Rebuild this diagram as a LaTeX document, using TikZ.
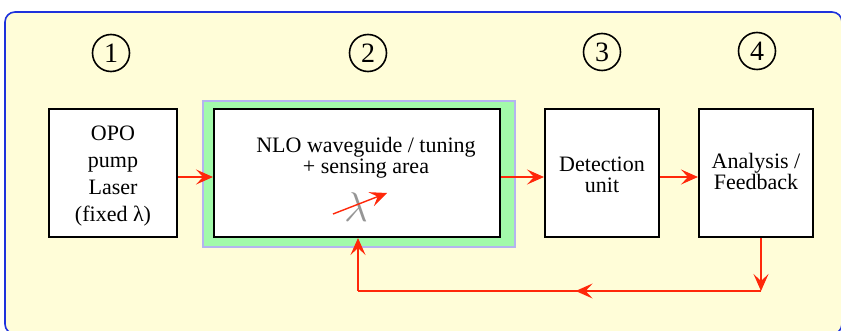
\documentclass[tikz,border=0pt]{standalone}
\usepackage{fontspec}
\setmainfont{Liberation Serif}
\usetikzlibrary{arrows.meta,decorations.markings}
\definecolor{bgyellow}{RGB}{255,253,216}
\definecolor{framblue}{RGB}{30,50,220}
\definecolor{areagreen}{RGB}{162,250,170}
\definecolor{lavender}{RGB}{180,180,240}
\definecolor{redline}{RGB}{255,40,10}
\definecolor{lamgray}{RGB}{150,150,150}
\tikzset{
  rtip/.tip={Stealth[length=8.5pt,width=7.5pt,inset=3.5pt]},
  blockbox/.style={draw=black,line width=1pt,fill=white,inner sep=0pt,minimum height=64pt},
  numcirc/.style={circle,draw=black,line width=0.8pt,minimum size=18.5pt,inner sep=0pt,font=\fontsize{14}{15}\selectfont},
  btext/.style={align=center,inner sep=0pt,font=\fontsize{11}{10.5}\selectfont},
  redarrow/.style={draw=redline,line width=0.7pt,-rtip},
  redline/.style={draw=redline,line width=0.7pt},
}
\begin{document}
\begin{tikzpicture}[x=0.5pt,y=-0.5pt]
\useasboundingbox (0,0) rectangle (841,331);
% frame
\draw[framblue,line width=0.8pt,fill=bgyellow,rounded corners=5pt] (5,12) rectangle (842,334);

% numbers
\node[numcirc] (n1) at (111,53) {1};
\node[numcirc] (n2) at (368,53) {2};
\node[numcirc] (n3) at (602,52) {3};
\node[numcirc] (n4) at (757,51) {4};

% green area
\node[draw=lavender,fill=areagreen,line width=1pt,minimum width=156pt,minimum height=73pt,inner sep=0pt] (area) at (359,174) {};

% boxes
\node[blockbox,minimum width=64pt] (b1) at (113,173) {};
\node[blockbox,minimum width=143pt] (b2) at (357,173) {};
\node[blockbox,minimum width=57pt] (b3) at (602,173) {};
\node[blockbox,minimum width=57pt] (b4) at (756,173) {};

% texts
\node[btext,font=\fontsize{11}{13.5}\selectfont] (t1) at (113,176) {OPO\\pump\\Laser\\(fixed λ)};
\node[btext] (t2) at (366,158) {NLO waveguide / tuning\\+ sensing area};
\node[btext] (t3) at (602,175) {Detection\\unit};
\node[btext] (t4) at (756,171) {Analysis /\\Feedback};

% tuning lambda
\node[text=lamgray,inner sep=0pt,font=\fontsize{21}{22}\selectfont] (lam) at (356,207) {$\lambda$};
\coordinate (lamA) at (333,214);
\coordinate (lamB) at (387,193);
\draw[redarrow] (lamA) -- (lamB);

% forward arrows
\draw[redarrow] ([yshift=-2pt]b1.east) -- ([yshift=-2pt]b2.west);
\draw[redarrow] ([yshift=-2pt]b2.east) -- ([yshift=-2pt]b3.west);
\draw[redarrow] ([yshift=-2pt]b3.east) -- ([yshift=-2pt]b4.west);

% feedback
\coordinate (fbr) at (761,291);
\coordinate (fbl) at (358,291);
\draw[redarrow] ([xshift=2.5pt]b4.south) -- (fbr);
\draw[redline,decoration={markings,mark=at position 0.46 with {\arrow{rtip}}},postaction={decorate}] (fbr) -- (fbl);
\draw[redarrow] (fbl) -- (fbl |- b2.south);
\end{tikzpicture}
\end{document}
